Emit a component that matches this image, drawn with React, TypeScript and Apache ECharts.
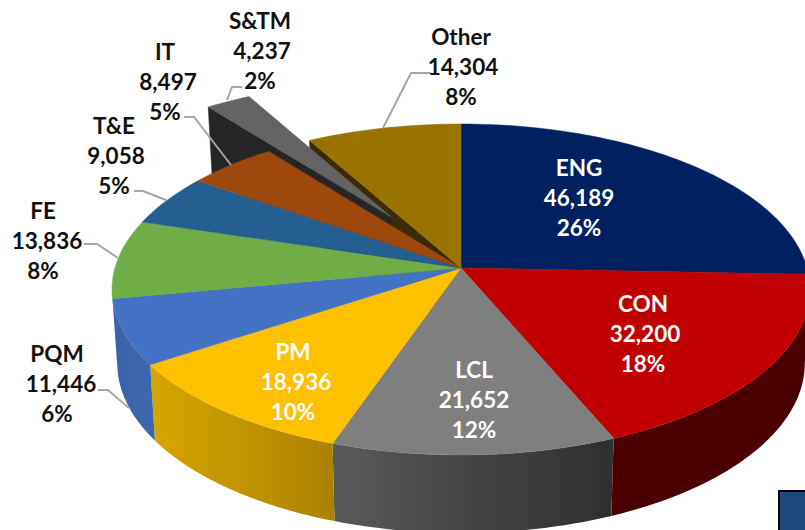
import React, { useEffect, useRef } from "react";
import * as echarts from "echarts";

// ---- data ----
const categories = ["ENG", "CON", "LCL", "PM", "PQM", "FE", "T&E", "IT", "S&TM", "Other"];
const values = [46189, 32200, 21652, 18936, 11446, 13836, 9058, 8497, 4237, 14304];

// ---- styles ----
const topColors = ["#002060", "#C00000", "#7F7F7F", "#FFC000", "#4472C4", "#70AD47", "#255E91", "#9E480E", "#636363", "#997300"];
const wallLeft = ["#001030", "#4a0000", "#5a5a5a", "#d6a600", "#3a62a8", "#3a62a8", "#1a4266", "#6a3009", "#262626", "#3a2c00"];
const wallRight = ["#001030", "#4a0000", "#2f2f2f", "#ab8100", "#3d68b0", "#3d68b0", "#1a4266", "#6a3009", "#262626", "#3a2c00"];
const labelColors = ["#fff", "#fff", "#fff", "#fff", "#111", "#111", "#111", "#111", "#111", "#111"];

// ---- layout ----
const labelCenters = [[579, 197], [643, 333], [474, 399], [293, 381], [57, 383], [43, 240], [114, 155], [165, 81], [260, 50], [461, 66]];
const numberShift = [0, 2, 0, 3, 4, 4, 2, 3, 2, 2];
const leaderLines: (number[][] | null)[] = [
  null, null, null, null,
  [[98, 390], [108, 390], [129, 408]],
  [[84, 244], [97, 244], [118, 258]],
  [[134, 191], [143, 191], [166, 200]],
  [[184, 117], [194, 117], [231, 165]],
  [[242, 87], [232, 87], [227, 100]],
  [[431, 73], [411, 73], [383, 128]],
];
const CX = 461, CY = 289.5, RX = 349, RY = 165.5, K = -0.13;
const C = RX * Math.sqrt(1 - K * K);
const EXPLODE_INDEX = 8;
const EXPLODE_DX = -0.21, EXPLODE_DY = -0.326, EXPLODE_R = 1.025;

// small correction of the slice angles for the 3D view's foreshortening (degrees)
const warpAt = [0, 92, 156, 200, 237, 323, 360];
const warpBy = [0, 0, 0.7, -0.7, -1, -0.8, 0];
function warp(rad: number) {
  const deg = (rad * 180) / Math.PI;
  for (let i = 1; i < warpAt.length; i++) {
    if (deg <= warpAt[i]) {
      const t = (deg - warpAt[i - 1]) / (warpAt[i] - warpAt[i - 1]);
      return ((deg + warpBy[i - 1] + t * (warpBy[i] - warpBy[i - 1])) * Math.PI) / 180;
    }
  }
  return rad;
}

const total = values.reduce((a, b) => a + b, 0);
const bounds: number[] = [0];
values.forEach((v, i) => bounds.push(bounds[i] + (v / total) * Math.PI * 2));
const startAngles = values.map((_, i) => warp(bounds[i]));
const endAngle = (i: number) => warp(bounds[i + 1]);

function project(X: number, Y: number) {
  const d = 1 + K * Y;
  return [CX + (C * X) / d, CY + (RY * (Y + K)) / d];
}
function lower(X: number, Y: number) {
  const p = project(X, Y);
  return [CX + (p[0] - CX) * 0.985, p[1] + 73 + 5 * Y];
}
function arc(a0: number, a1: number, fn: (X: number, Y: number) => number[], r = 1, dx = 0, dy = 0) {
  const n = Math.max(2, Math.ceil(((a1 - a0) / Math.PI) * 120));
  const out: number[][] = [];
  for (let i = 0; i <= n; i++) {
    const a = a0 + ((a1 - a0) * i) / n;
    out.push(fn(dx + r * Math.sin(a), dy - r * Math.cos(a)));
  }
  return out;
}
const poly = (points: number[][], fill: any) => ({
  type: "polygon",
  shape: { points },
  style: { fill, stroke: typeof fill === "string" ? fill : undefined, lineWidth: 0.5 },
});
const hGrad = (i: number) =>
  new echarts.graphic.LinearGradient(0, 0, 1, 0, [
    { offset: 0, color: wallLeft[i] },
    { offset: 1, color: wallRight[i] },
  ]);

// the disc's side wall is visible only on the front arc between these angles
const FRONT_FROM = Math.acos(K);
const FRONT_TO = Math.PI * 2 - FRONT_FROM;

function renderBack(_: any, api: any) {
  const i = api.value(0);
  const a0 = startAngles[i];
  if (i === EXPLODE_INDEX) {
    const dx = EXPLODE_DX, dy = EXPLODE_DY, r = EXPLODE_R;
    const e = endAngle(i);
    const apexT = project(dx, dy);
    const apexB = [apexT[0], apexT[1] + 75];
    const oT = project(dx + r * Math.sin(a0), dy - r * Math.cos(a0));
    const oB = lower(dx + r * Math.sin(a0), dy - r * Math.cos(a0));
    return {
      type: "group",
      children: [
        poly([oT, apexT, apexB, oB], wallLeft[i]),
        poly([apexT, ...arc(a0, e, project, r, dx, dy)], topColors[i]),
      ],
    };
  }
  // radial cut face of the slice next to the gap
  const o = [Math.sin(a0), -Math.cos(a0)];
  return poly(
    [project(o[0], o[1]), project(0, 0), lower(0, 0), lower(o[0], o[1])],
    wallLeft[i],
  );
}

function renderWall(_: any, api: any) {
  const i = api.value(0);
  const a0 = Math.max(startAngles[i], FRONT_FROM);
  const a1 = Math.min(endAngle(i), FRONT_TO);
  if (a1 <= a0) return { type: "group", children: [] };
  const up = arc(a0, a1, project);
  const down = arc(a0, a1, lower).reverse();
  return poly([...up, ...down], hGrad(i));
}

function renderTop(_: any, api: any) {
  const i = api.value(0);
  return poly([project(0, 0), ...arc(startAngles[i], endAngle(i), project)], topColors[i]);
}

function renderLabel(_: any, api: any) {
  const i = api.value(0);
  const [x, y] = labelCenters[i];
  const pct = Math.round((values[i] / total) * 100);
  const children: any[] = [];
  if (leaderLines[i]) {
    children.push({
      type: "polyline",
      shape: { points: leaderLines[i] },
      style: { stroke: "#A6A6A6", lineWidth: 2, fill: "none" },
    });
  }
  [categories[i], values[i].toLocaleString("en-US"), pct + "%"].forEach((t, n) => {
    children.push({
      type: "text",
      x: x + (n === 1 ? numberShift[i] : 0),
      y: y + (n - 1) * 30,
      style: {
        text: t,
        fill: labelColors[i],
        font: 'bold 22.5px Lato, "Open Sans", sans-serif',
        align: "center",
        verticalAlign: "middle",
      },
    });
  });
  return { type: "group", children };
}

const idx = values.map((_, i) => [i, values[i]]);
const series = (id: string, z: number, data: number[][], renderItem: any) => ({
  type: "custom",
  name: id,
  coordinateSystem: "none",
  silent: true,
  z,
  data,
  renderItem,
  clip: false,
});

export default function App() {
  const ref = useRef<HTMLDivElement>(null);
  useEffect(() => {
    document.body.style.margin = "0";
    const chart = echarts.init(ref.current!, null, { renderer: "svg" });
    chart.setOption({
      animation: false,
      backgroundColor: "#fff",
      tooltip: { show: false },
      graphic: [
        {
          type: "rect",
          z: 100,
          shape: { x: 779, y: 491, width: 50, height: 60 },
          style: { fill: "#1F497D", stroke: "#000", lineWidth: 2 },
        },
      ],
      series: [
        series("cut", 1, [idx[9], idx[8]], renderBack),
        series("walls", 2, idx, renderWall),
        series("tops", 3, idx.filter((r) => r[0] !== EXPLODE_INDEX), renderTop),
        series("labels", 4, idx, renderLabel),
      ],
    });
    return () => chart.dispose();
  }, []);
  return <div ref={ref} style={{ width: 805, height: 530, overflow: "hidden" }} />;
}
